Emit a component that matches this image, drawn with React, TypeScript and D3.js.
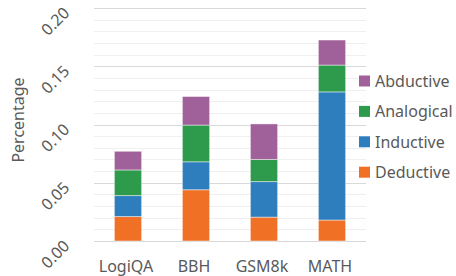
import React, { useEffect, useRef } from 'react';
import * as d3 from 'd3';

// data
const datasets = ['LogiQA', 'BBH', 'GSM8k', 'MATH'];
const seriesNames = ['Deductive', 'Inductive', 'Analogical', 'Abductive'];
const deductive = [0.021, 0.044, 0.0205, 0.018];
const inductive = [0.018, 0.024, 0.0305, 0.110];
const analogical = [0.022, 0.0315, 0.019, 0.023];
const abductive = [0.016, 0.0245, 0.0305, 0.0215];
const yTicks = [0, 0.05, 0.1, 0.15, 0.2];

const colors: Record<string, string> = {
  Deductive: '#F07026',
  Inductive: '#2E7EBE',
  Analogical: '#2E9A4C',
  Abductive: '#A0609A',
};

const W = 456;
const H = 276;
const font = '"Noto Sans", sans-serif';
const textColor = '#595959';

const App = () => {
  const ref = useRef<SVGSVGElement>(null);

  useEffect(() => {
    const svg = d3.select(ref.current);
    svg.selectAll('*').remove();

    const margin = { top: 8, left: 94, right: 90, bottom: 35 };
    const x = d3.scaleBand()
      .domain(datasets)
      .range([margin.left, W - margin.right])
      .paddingInner(0.6)
      .paddingOuter(0.3);
    const y = d3.scaleLinear()
      .domain([0, 0.2])
      .range([H - margin.bottom, margin.top]);

    // minor gridlines
    svg.append('g')
      .selectAll('line')
      .data(d3.range(0, 0.2001, 0.01))
      .enter()
      .append('line')
      .attr('x1', margin.left)
      .attr('x2', W - margin.right)
      .attr('y1', d => Math.round(y(d)) + 0.5)
      .attr('y2', d => Math.round(y(d)) + 0.5)
      .attr('stroke', '#efefef')
      .attr('stroke-width', 1);

    // major gridlines
    svg.append('g')
      .selectAll('line')
      .data(yTicks)
      .enter()
      .append('line')
      .attr('x1', margin.left)
      .attr('x2', W - margin.right)
      .attr('y1', d => Math.round(y(d)) + 0.5)
      .attr('y2', d => Math.round(y(d)) + 0.5)
      .attr('stroke', '#d9d9d9')
      .attr('stroke-width', 1);

    // stack the series
    const rows = datasets.map((name, i) => ({
      name,
      Deductive: deductive[i],
      Inductive: inductive[i],
      Analogical: analogical[i],
      Abductive: abductive[i],
    }));
    const stacked = d3.stack<any>().keys(seriesNames)(rows);

    svg.append('g')
      .selectAll('g')
      .data(stacked)
      .enter()
      .append('g')
      .attr('fill', d => colors[d.key])
      .selectAll('rect')
      .data(d => d)
      .enter()
      .append('rect')
      .attr('x', d => x(d.data.name)!)
      .attr('width', x.bandwidth())
      .attr('y', d => y(d[1]))
      .attr('height', d => y(d[0]) - y(d[1]))
      .attr('stroke', '#ffffff')
      .attr('stroke-opacity', 0.45)
      .attr('stroke-width', 1);

    // y tick labels, rotated
    svg.append('g')
      .selectAll('text')
      .data(yTicks)
      .enter()
      .append('text')
      .attr('transform', d => `translate(55,${y(d) + 13}) rotate(-45)`)
      .attr('text-anchor', 'middle')
      .attr('dominant-baseline', 'central')
      .attr('font-family', font)
      .attr('font-size', 16)
      .attr('fill', textColor)
      .text(d => d.toFixed(2));

    // x labels
    svg.append('g')
      .selectAll('text')
      .data(datasets)
      .enter()
      .append('text')
      .attr('x', d => x(d)! + x.bandwidth() / 2 - 2)
      .attr('y', 272)
      .attr('text-anchor', 'middle')
      .attr('font-family', font)
      .attr('font-size', 16)
      .attr('fill', textColor)
      .text(d => d);

    // axis title
    svg.append('text')
      .attr('transform', `translate(24,120) rotate(-90)`)
      .attr('text-anchor', 'middle')
      .attr('font-family', font)
      .attr('font-size', 16)
      .attr('fill', textColor)
      .text('Percentage');

    // legend (top to bottom: reverse stack order)
    const legend = svg.append('g')
      .selectAll('g')
      .data(seriesNames.slice().reverse())
      .enter()
      .append('g')
      .attr('transform', (d, i) => `translate(359,${81 + i * 30.4})`);
    legend.append('rect')
      .attr('x', 0)
      .attr('y', -5.5)
      .attr('width', 11)
      .attr('height', 11)
      .attr('fill', d => colors[d]);
    legend.append('text')
      .attr('x', 16)
      .attr('y', 0)
      .attr('dominant-baseline', 'central')
      .attr('font-family', font)
      .attr('font-size', 16)
      .attr('fill', textColor)
      .text(d => d);
  }, []);

  return (
    <svg ref={ref} width={W} height={H} style={{ position: 'absolute', left: 0, top: 0 }}></svg>
  );
};

export default App;
